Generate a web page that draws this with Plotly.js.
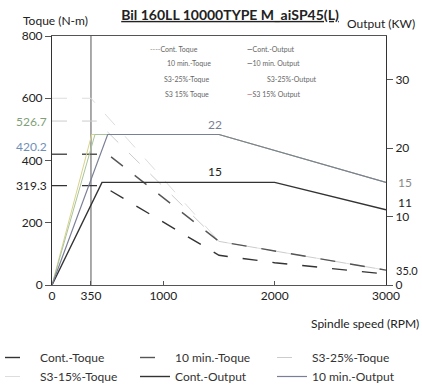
<!DOCTYPE html>
<html>
<head>
<meta charset="utf-8">
<script src="https://cdn.plot.ly/plotly-3.0.1.min.js"></script>
<style>html,body{margin:0;padding:0;background:#fff;}#chart{width:422px;height:390px;}</style>
</head>
<body>
<div id="chart"></div>
<script>
// ---- data ----
const contTorqueRpm = [0, 449, 1500, 2000, 3000];
const contTorque    = [319.3, 319.3, 95.5, 71.6, 35.0];
const tenTorqueRpm  = [0, 500, 1500, 3000];
const tenTorque     = [420.2, 420.2, 140.1, 47.7];
const s325TorqueRpm = [0, 399, 1500, 3000];
const s325Torque    = [526.7, 526.7, 140.1, 47.7];
const s315TorqueRpm = [0, 350, 1500, 3000];
const s315Torque    = [600, 600, 140.1, 47.7];

const contOutputRpm = [0, 449, 2000, 3000];
const contOutput    = [0, 15, 15, 11];
const tenOutputRpm  = [0, 500, 1500, 3000];
const tenOutput     = [0, 22, 22, 15];
const s325OutputRpm = [0, 386, 1500, 3000];
const s325Output    = [0, 22, 22, 15];
const s315OutputRpm = [0, 357, 1500, 3000];
const s315Output    = [0, 22, 22, 15];

const baseSpeedLineX = [350, 350];
const baseSpeedLineY = [0, 800];

const xTicks  = [0, 350, 1000, 2000, 3000];
const yTicks  = [0, 200, 400, 600, 800];
const y2Ticks = [0, 10, 20, 30];
const torqueMarks = [526.7, 420.2, 319.3];
const outputMarks = [15, 11];
const endTorque = 35.0;

const FONT = 'Lato, "Open Sans", sans-serif';
const DASH = '15px,15px';

// bottom legend: three columns of two entries each
const traces = [
  {x: baseSpeedLineX, y: baseSpeedLineY, mode:'lines', line:{color:'#555', width:1}, showlegend:false, hoverinfo:'skip'},
  {x: s315TorqueRpm, y: s315Torque, name:'S3-15%-Toque', legend:'legend', legendrank:2, mode:'lines', line:{color:'#dddddd', width:1, dash:DASH}},
  {x: s325TorqueRpm, y: s325Torque, name:'S3-25%-Toque', legend:'legend3', legendrank:1, mode:'lines', line:{color:'#cccccc', width:1, dash:DASH}},
  {x: tenTorqueRpm, y: tenTorque, name:'10 min.-Toque', legend:'legend2', legendrank:1, mode:'lines', line:{color:'#555', width:1.4, dash:DASH}},
  {x: contTorqueRpm, y: contTorque, name:'Cont.-Toque', legend:'legend', legendrank:1, mode:'lines', line:{color:'#333', width:1.4, dash:DASH}},
  {x: s315OutputRpm, y: s315Output, yaxis:'y2', name:'S3-15%-Output', mode:'lines', line:{color:'#d8d28a', width:1}, showlegend:false},
  {x: s325OutputRpm, y: s325Output, yaxis:'y2', name:'S3-25%-Output', mode:'lines', line:{color:'#a9c39a', width:1}, showlegend:false},
  {x: contOutputRpm, y: contOutput, yaxis:'y2', name:'Cont.-Output', legend:'legend2', legendrank:2, mode:'lines', line:{color:'#333', width:1.4}},
  {x: tenOutputRpm, y: tenOutput, yaxis:'y2', name:'10 min.-Output', legend:'legend3', legendrank:2, mode:'lines', line:{color:'#7a7f95', width:1.2}}
];

const L = 52, R = 386, T = 36, B = 285;
const px = v => (v - L) / (R - L);
const py = v => (B - v) / (B - T);

const annotations = [];
const markColors = ['#7f9f78', '#6f8fb8', '#222'];
const markShift = [0, 8, 0];
torqueMarks.forEach((v, i) => annotations.push({
  xref:'paper', yref:'y', x: px(49), y: v, xanchor:'right', yanchor:'middle', yshift: markShift[i],
  text: String(v), showarrow:false, font:{family:FONT, size:12, color: markColors[i]}
}));
annotations.push({xref:'paper', yref:'y2', x: px(396), y: outputMarks[0], xanchor:'left', yanchor:'middle',
  text:String(outputMarks[0]), showarrow:false, font:{family:FONT, size:12, color:'#888'}});
annotations.push({xref:'paper', yref:'y2', x: px(396), y: outputMarks[1], xanchor:'left', yanchor:'middle', yshift:7,
  text:String(outputMarks[1]), showarrow:false, font:{family:FONT, size:12, color:'#222'}});
annotations.push({xref:'paper', yref:'y', x: px(394), y: endTorque, xanchor:'left', yanchor:'middle', yshift:4,
  text:endTorque.toFixed(1), showarrow:false, font:{family:FONT, size:11, color:'#222'}});
annotations.push({xref:'x', yref:'y2', x: 1464, y: tenOutput[1], yanchor:'bottom', yshift:1,
  text:String(tenOutput[1]), showarrow:false, font:{family:FONT, size:12, color:'#7a7f95'}});
annotations.push({xref:'x', yref:'y2', x: 1464, y: contOutput[1], yanchor:'bottom', yshift:1,
  text:String(contOutput[1]), showarrow:false, font:{family:FONT, size:12, color:'#222'}});
annotations.push({xref:'paper', yref:'paper', x: px(21), y: py(21), xanchor:'left', yanchor:'middle',
  text:'Toque (N-m)', showarrow:false, font:{family:FONT, size:12, color:'#222'}});
annotations.push({xref:'paper', yref:'paper', x: px(345), y: py(23), xanchor:'left', yanchor:'middle',
  text:'Output (KW)', showarrow:false, font:{family:FONT, size:12, color:'#222'}});
annotations.push({xref:'paper', yref:'paper', x: px(421), y: py(323), xanchor:'right', yanchor:'middle',
  text:'Spindle speed (RPM)', showarrow:false, font:{family:FONT, size:12, color:'#222'}});
const smallFont = {family:FONT, size:7, color:'#666'};
const inLegend = [
  {x:148, y:49, a:'left',   t:'<span style="color:#888">----</span>Cont. Toque'},
  {x:189, y:63, a:'center', t:'10 min.-Toque'},
  {x:186, y:79, a:'center', t:'S3-25%-Toque'},
  {x:187, y:94, a:'center', t:'S3 15% Toque'},
  {x:245, y:49, a:'left',   t:'<span style="color:#222">—</span>Cont.-Output'},
  {x:245, y:63, a:'left',   t:'<span style="color:#222">—</span>10 min. Output'},
  {x:265, y:79, a:'left',   t:'S3-25%-Output'},
  {x:245, y:94, a:'left',   t:'<span style="color:#b44">—</span>S3 15% Output'}
];
inLegend.forEach(e => annotations.push({xref:'paper', yref:'paper', x:px(e.x), y:py(e.y), xanchor:e.a, yanchor:'middle',
  text:e.t, showarrow:false, font:smallFont}));

const legendBase = {orientation:'v', xanchor:'left', yanchor:'top', yref:'container', y:1-343/390,
  font:{family:FONT, size:12, color:'#333'}, bgcolor:'rgba(0,0,0,0)', traceorder:'normal'};

const layout = {
  width:422, height:390,
  margin:{l:L, r:422-R, t:T, b:390-B},
  paper_bgcolor:'#fff', plot_bgcolor:'#fff',
  font:{family:FONT, size:12, color:'#222'},
  title:{text:'<b><u>Bil 160LL 10000TYPE M_aiSP45(L)</u></b>', font:{family:FONT, size:14, color:'#222'},
         xref:'paper', x:px(230), xanchor:'center', yref:'container', y:1-15/390, yanchor:'middle'},
  xaxis:{range:[0,3000], tickvals:xTicks, ticktext:xTicks.map(String), showgrid:false, zeroline:false,
         showline:true, linecolor:'#555', linewidth:1, mirror:true, ticks:'inside', ticklen:4, tickcolor:'#555',
         tickfont:{family:FONT, size:12, color:'#222'}, fixedrange:true},
  yaxis:{range:[0,800], tickvals:yTicks, showgrid:false, zeroline:false, showline:true, linecolor:'#333', linewidth:1,
         ticks:'outside', ticklen:6, tickcolor:'#555', tickfont:{family:FONT, size:12, color:'#222'}},
  yaxis2:{range:[0,36.4], overlaying:'y', side:'right', tickvals:y2Ticks, showgrid:false, zeroline:false,
          showline:true, linecolor:'#333', linewidth:1, ticks:'outside', ticklen:6, tickcolor:'#555',
          tickfont:{family:FONT, size:12, color:'#222'}},
  showlegend:true,
  legend:  Object.assign({}, legendBase, {x:px(0)}),
  legend2: Object.assign({}, legendBase, {x:px(135)}),
  legend3: Object.assign({}, legendBase, {x:px(272)}),
  annotations:annotations
};

Plotly.newPlot('chart', traces, layout, {staticPlot:true, displayModeBar:false});
</script>
</body>
</html>
